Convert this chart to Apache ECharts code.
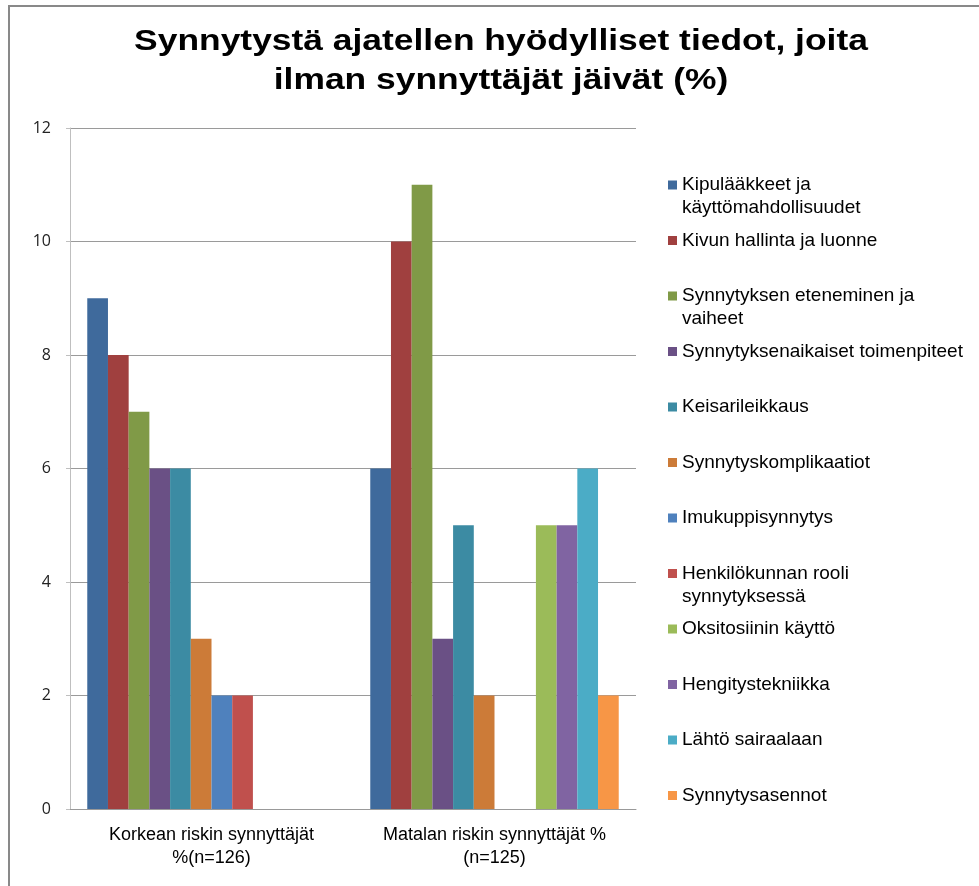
<!DOCTYPE html>
<html>
<head>
<meta charset="utf-8">
<script src="https://cdn.jsdelivr.net/npm/echarts@6/dist/echarts.min.js"></script>
<style>html,body{margin:0;padding:0;background:#fff}#c{width:979px;height:886px}</style>
</head>
<body>
<div id="c"></div>
<script>
var titleText = 'Synnytystä ajatellen hyödylliset tiedot, joita\nilman synnyttäjät jäivät (%)';
var categories = ['Korkean riskin synnyttäjät\n%(n=126)', 'Matalan riskin synnyttäjät %\n(n=125)'];
var seriesNames = [
  'Kipulääkkeet ja\nkäyttömahdollisuudet',
  'Kivun hallinta ja luonne',
  'Synnytyksen eteneminen ja\nvaiheet',
  'Synnytyksenaikaiset toimenpiteet',
  'Keisarileikkaus',
  'Synnytyskomplikaatiot',
  'Imukuppisynnytys',
  'Henkilökunnan rooli\nsynnytyksessä',
  'Oksitosiinin käyttö',
  'Hengitystekniikka',
  'Lähtö sairaalaan',
  'Synnytysasennot'
];
var korkeaValues = [9, 8, 7, 6, 6, 3, 2, 2, 0, 0, 0, 0];
var matalaValues = [6, 10, 11, 3, 5, 2, 0, 0, 5, 5, 6, 2];
var yTicks = [0, 2, 4, 6, 8, 10, 12];
var colors = ['#3F6A9C', '#A0403F', '#809A47', '#6A5085', '#3C8BA3', '#CC7B38',
              '#4F81BD', '#C0504D', '#9BBB59', '#8064A2', '#4BACC6', '#F79646'];

var series = seriesNames.map(function (name, i) {
  return {
    name: name,
    type: 'bar',
    data: [korkeaValues[i], matalaValues[i]],
    barGap: '0%',
    barCategoryGap: '12.2%',
    itemStyle: { color: colors[i] },
    emphasis: { disabled: true }
  };
});

// legend icon: square aligned with the first text line inside a two-line-high item
var legendIcon = 'path://M0,7L9,7L9,16L0,16Z M0,0L9,0 M0,46L9,46';

var chart = echarts.init(document.getElementById('c'), null, { renderer: 'canvas' });
chart.setOption({
  animation: false,
  backgroundColor: '#fff',
  color: colors,
  graphic: [{
    type: 'rect',
    silent: true,
    shape: { x: 9, y: 6, width: 1200, height: 1200 },
    style: { fill: 'none', stroke: '#898989', lineWidth: 2 }
  }, {
    type: 'text',
    silent: true,
    x: 501,
    y: 22,
    scaleX: 1.18,
    style: {
      text: titleText,
      align: 'center',
      verticalAlign: 'top',
      fontFamily: '"Liberation Sans", Arial, sans-serif',
      fontWeight: 'bold',
      fontSize: 30,
      lineHeight: 39,
      fill: '#000'
    }
  }],
  legend: {
    orient: 'vertical',
    left: 668,
    top: 173.5,
    itemWidth: 9,
    itemHeight: 46,
    itemGap: 9.5,
    icon: legendIcon,
    padding: 0,
    data: seriesNames,
    formatter: function (name) {
      return name.indexOf('\n') >= 0 ? name : name + '\n ';
    },
    textStyle: {
      fontFamily: '"Liberation Sans", Arial, sans-serif',
      fontSize: 19,
      lineHeight: 23,
      color: '#000'
    }
  },
  grid: { left: 70, right: 343, top: 128, bottom: 77, containLabel: false },
  xAxis: {
    type: 'category',
    data: categories,
    axisLine: { show: true, lineStyle: { color: '#999', width: 1 } },
    axisTick: { show: false },
    axisLabel: {
      margin: 14.5,
      interval: 0,
      fontFamily: '"Liberation Sans", Arial, sans-serif',
      fontSize: 18,
      lineHeight: 23,
      color: '#000'
    },
    splitLine: { show: false }
  },
  yAxis: {
    type: 'value',
    min: yTicks[0],
    max: yTicks[yTicks.length - 1],
    interval: 2,
    axisLine: { show: true, lineStyle: { color: '#bfbfbf', width: 1 } },
    axisTick: { show: true, length: 4, lineStyle: { color: '#bfbfbf' } },
    axisLabel: {
      margin: 19,
      fontFamily: '"Open Sans", "Liberation Sans", sans-serif',
      fontSize: 16,
      color: '#222'
    },
    splitLine: { show: true, lineStyle: { color: '#9a9a9a', width: 1 } }
  },
  series: series
});
</script>
</body>
</html>
